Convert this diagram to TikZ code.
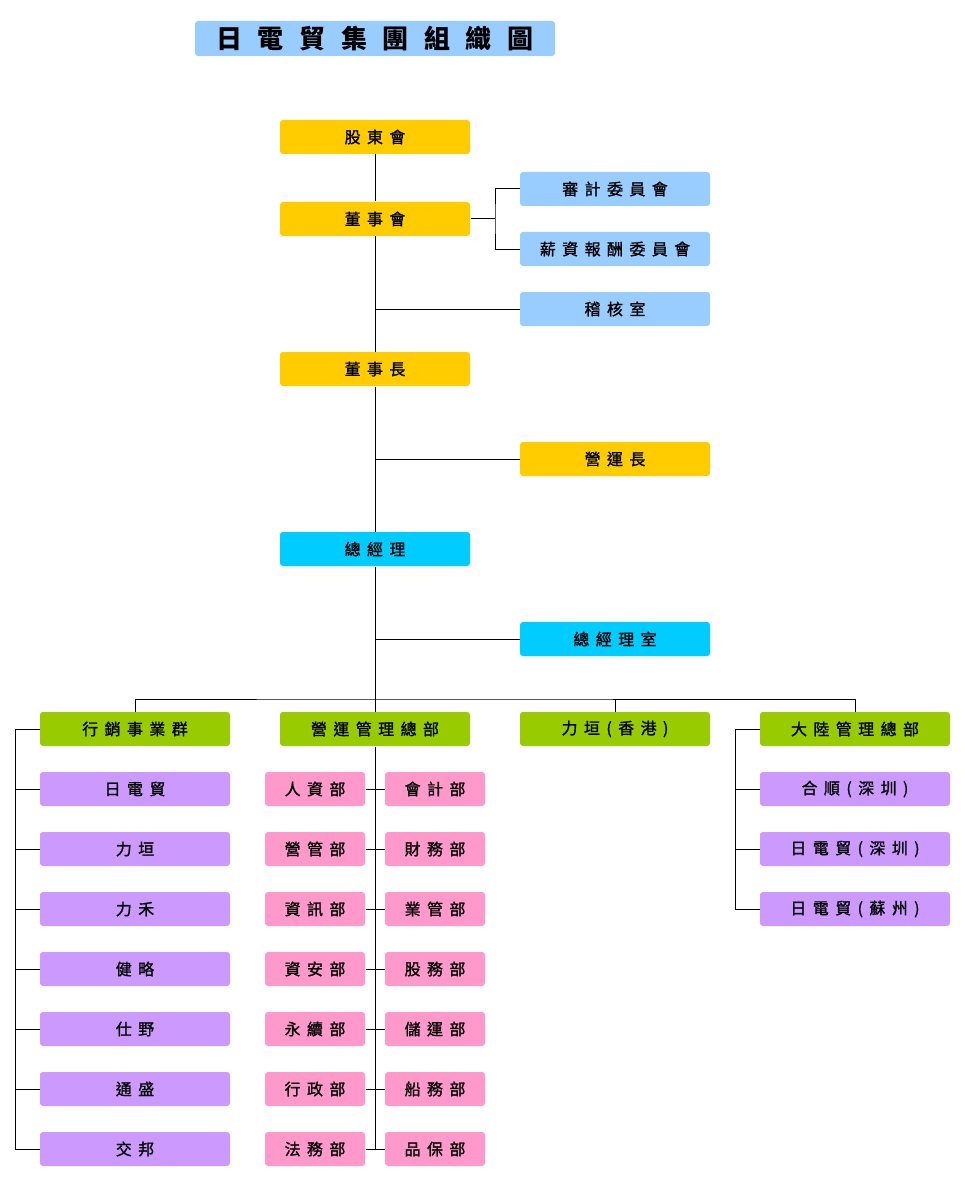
\documentclass[tikz,border=0pt]{standalone}
\usepackage{fontspec}
\newfontfamily\cjk[LetterSpace=40,FakeBold=1.2]{Noto Sans CJK TC}
\newfontfamily\cjktitle[LetterSpace=60]{Noto Sans CJK TC}
\usepackage{tikz}
\usetikzlibrary{calc}

\definecolor{ygold}{HTML}{FFCC00}
\definecolor{lblue}{HTML}{99CCFF}
\definecolor{cyanb}{HTML}{00CCFF}
\definecolor{lgreen}{HTML}{99CC00}
\definecolor{lpurple}{HTML}{CC99FF}
\definecolor{lpink}{HTML}{FF99CC}

\begin{document}
\begin{tikzpicture}[x=1pt, y=-1pt, line width=1pt,
 box/.style={rounded corners=3pt, minimum width=190pt, minimum height=34pt, inner sep=0pt,
  font=\cjk\fontsize{16}{16}\selectfont, text=black},
 half/.style={box, minimum width=100pt},
 board/.style={box, fill=ygold},
 comm/.style={box, fill=lblue},
 gm/.style={box, fill=cyanb},
 unit/.style={box, fill=lgreen},
 sub/.style={box, fill=lpurple},
 dept/.style={half, fill=lpink}]
 \useasboundingbox (0,0) rectangle (965,1182);

 \node[rounded corners=3pt, fill=lblue, minimum width=360pt, minimum height=35pt, inner sep=0pt,
  font=\cjktitle\bfseries\fontsize{26}{26}\selectfont] (title) at (375,38.5) {日電貿集團組織圖};

 % board level
 \node[board] (gd) at (375,137) {股東會};
 \node[board] (bd) at (375,219) {董事會};
 \node[comm] (ac) at (615,189) {審計委員會};
 \node[comm] (pc) at (615,249) {薪資報酬委員會};
 \node[comm] (au) at (615,309) {稽核室};
 \node[board] (ch) at (375,369) {董事長};
 \node[board] (co) at (615,459) {營運長};
 \node[gm] (pm) at (375,549) {總經理};
 \node[gm] (po) at (615,639) {總經理室};

 % units
 \node[unit] (mk) at (135,729) {行銷事業群};
 \node[unit] (op) at (375,729) {營運管理總部};
 \node[unit] (hk) at (615,729) {力垣(香港)};
 \node[unit] (cn) at (855,729) {大陸管理總部};

 \foreach \t [count=\i] in {日電貿,力垣,力禾,健略,仕野,通盛,交邦}
  \node[sub] (mk\i) at (135,729+60*\i) {\t};
 \foreach \a/\b [count=\i] in {人資部/會計部,營管部/財務部,資訊部/業管部,資安部/股務部,
   永續部/儲運部,行政部/船務部,法務部/品保部} {
  \node[dept] (dl\i) at (315,729+60*\i) {\a};
  \node[dept] (dr\i) at (435,729+60*\i) {\b};
 }
 \foreach \t [count=\i] in {合順(深圳),日電貿(深圳),日電貿(蘇州)}
  \node[sub] (cn\i) at (855,729+60*\i) {\t};

 \coordinate (cj) at (495,219);
 \coordinate (bus) at (375,699);
 \coordinate (lft) at (15,729);
 \coordinate (rgt) at (735,729);
 \coordinate (end) at (375,1149);

 % connectors
 \draw (gd) -- (bd);
 \draw (bd) -- (ch);
 \draw (ch) -- (pm);
 \draw (pm) -- (op);
 \draw (op) -- (end);
 \draw (bd.east) -- (cj);
 \draw (ac.west) -| (cj) |- (pc.west);
 \draw (au.west) -- (au.west -| bd.south);
 \draw (co.west) -- (co.west -| ch.south);
 \draw (po.west) -- (po.west -| pm.south);
 \draw (mk.north) |- (bus) -| (cn.north);
 \draw (hk.north) -- (hk.north |- bus);
 \draw (mk.west) -- (lft) |- (mk7.west);
 \foreach \i in {1,...,6}
  \draw (mk\i.west) -- (mk\i.west -| lft);
 \foreach \i in {1,...,7}
  \draw (dl\i.east) -- (dr\i.west);
 \draw (cn.west) -- (rgt) |- (cn3.west);
 \foreach \i in {1,2}
  \draw (cn\i.west) -- (cn\i.west -| rgt);
\end{tikzpicture}
\end{document}
